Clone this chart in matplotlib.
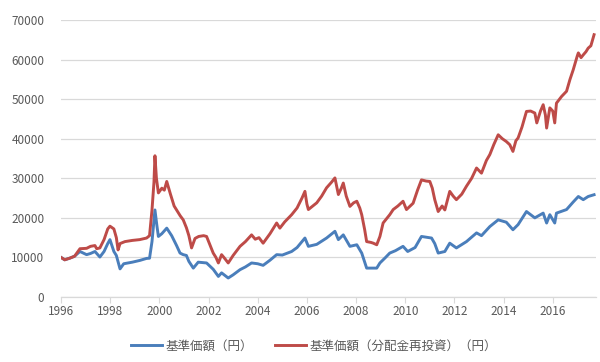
import matplotlib
matplotlib.use("Agg")
import matplotlib.pyplot as plt
from matplotlib.ticker import MultipleLocator

plt.rcParams['font.family'] = ['Noto Sans CJK JP', 'DejaVu Sans']

# ---- data (fractional year, yen) ----
red_t = [1996.0, 1996.15, 1996.35, 1996.55, 1996.77, 1997.04, 1997.2, 1997.38, 1997.45, 1997.58,
         1997.75, 1997.9, 1997.99, 1998.15, 1998.25, 1998.32, 1998.4, 1998.6, 1998.9, 1999.2,
         1999.48, 1999.6, 1999.7, 1999.78, 1999.82, 1999.88, 1999.96, 2000.1, 2000.2, 2000.3,
         2000.45, 2000.6, 2000.75, 2000.85, 2000.97, 2001.1, 2001.2, 2001.31, 2001.45, 2001.6,
         2001.8, 2001.92, 2002.1, 2002.19, 2002.3, 2002.4, 2002.53, 2002.65, 2002.8, 2003.0,
         2003.28, 2003.5, 2003.75, 2003.9, 2004.05, 2004.22, 2004.5, 2004.77, 2004.9, 2005.1,
         2005.38, 2005.6, 2005.8, 2005.92, 2006.0, 2006.06, 2006.2, 2006.4, 2006.6, 2006.8,
         2007.0, 2007.14, 2007.28, 2007.4, 2007.48, 2007.6, 2007.75, 2007.9, 2008.03, 2008.15,
         2008.23, 2008.35, 2008.43, 2008.6, 2008.7, 2008.84, 2008.97, 2009.1, 2009.37, 2009.51,
         2009.7, 2009.91, 2010.05, 2010.2, 2010.32, 2010.5, 2010.66, 2010.85, 2011.0, 2011.1,
         2011.2, 2011.34, 2011.5, 2011.61, 2011.81, 2011.95, 2012.08, 2012.3, 2012.49, 2012.7,
         2012.9, 2013.1, 2013.3, 2013.44, 2013.6, 2013.78, 2013.95, 2014.11, 2014.25, 2014.38,
         2014.5, 2014.59, 2014.75, 2014.93, 2015.1, 2015.27, 2015.35, 2015.5, 2015.61, 2015.7,
         2015.75, 2015.88, 2016.0, 2016.08, 2016.15, 2016.36, 2016.56, 2016.7, 2016.83, 2017.0,
         2017.04, 2017.15, 2017.24, 2017.35, 2017.44, 2017.55, 2017.68]
red_v = [10000, 9400, 9800, 10300, 12200, 12300, 12800, 13000, 12200, 12400,
         14500, 17200, 17900, 17200, 15000, 11900, 13500, 14000, 14300, 14500,
         14900, 15500, 22000, 29000, 35700, 30000, 26300, 27500, 27000, 29200,
         26000, 23000, 21500, 20500, 19500, 17500, 15500, 12400, 14800, 15300,
         15500, 15300, 12500, 11100, 10000, 8600, 10700, 9800, 8600, 10500,
         12800, 14000, 15700, 14600, 15000, 13600, 16000, 18700, 17400, 19000,
         20800, 22500, 25000, 26700, 23500, 22100, 22800, 23800, 25500, 27600,
         29000, 30100, 25900, 27500, 28800, 25500, 22900, 23800, 24200, 22500,
         20800, 17000, 14000, 13800, 13600, 13200, 15300, 18700, 20800, 22100,
         23000, 24200, 22100, 23000, 23700, 27000, 29600, 29300, 29200, 27500,
         24600, 21600, 23000, 22000, 26700, 25500, 24600, 26000, 28000, 30000,
         32600, 31300, 34500, 36000, 38500, 41000, 40000, 39300, 38500, 36800,
         39500, 40200, 43000, 46900, 47000, 46500, 44000, 47000, 48600, 46000,
         42700, 47800, 47000, 44000, 49000, 50700, 52000, 55000, 57400, 61000,
         61700, 60500, 61200, 62000, 62900, 63500, 66300]

blue_t = [1996.0, 1996.15, 1996.35, 1996.55, 1996.77, 1997.04, 1997.2, 1997.38, 1997.58, 1997.75,
          1997.9, 1997.99, 1998.15, 1998.25, 1998.4, 1998.55, 1998.9, 1999.21, 1999.48, 1999.6,
          1999.7, 1999.82, 1999.9, 1999.96, 2000.1, 2000.3, 2000.5, 2000.7, 2000.84, 2000.97,
          2001.1, 2001.2, 2001.38, 2001.58, 2001.92, 2002.19, 2002.4, 2002.53, 2002.8, 2003.0,
          2003.28, 2003.5, 2003.75, 2004.0, 2004.22, 2004.5, 2004.77, 2005.0, 2005.38, 2005.6,
          2005.8, 2005.92, 2006.06, 2006.4, 2006.8, 2007.14, 2007.28, 2007.48, 2007.75, 2008.03,
          2008.23, 2008.43, 2008.84, 2008.97, 2009.2, 2009.37, 2009.6, 2009.91, 2010.1, 2010.4,
          2010.66, 2011.07, 2011.2, 2011.34, 2011.61, 2011.81, 2012.08, 2012.49, 2012.9, 2013.1,
          2013.44, 2013.78, 2014.11, 2014.38, 2014.59, 2014.93, 2015.27, 2015.61, 2015.75, 2015.88,
          2016.08, 2016.15, 2016.56, 2016.83, 2017.04, 2017.24, 2017.44, 2017.68]
blue_v = [10000, 9400, 9800, 10300, 11500, 10700, 11000, 11500, 10100, 11500,
          13500, 14500, 11500, 10500, 7100, 8400, 8800, 9250, 9750, 9800,
          14000, 22000, 18000, 15300, 16000, 17400, 15500, 13000, 11100, 10700,
          10500, 9000, 7300, 8800, 8600, 7000, 5200, 6100, 4800, 5600,
          6900, 7600, 8600, 8400, 8000, 9300, 10700, 10600, 11500, 12500,
          14000, 14900, 12800, 13300, 14900, 16600, 14500, 15700, 12800, 13200,
          11100, 7300, 7300, 8600, 10000, 11100, 11700, 12800, 11500, 12500,
          15300, 14900, 13500, 11100, 11500, 13600, 12400, 14000, 16200, 15500,
          17800, 19500, 18900, 17000, 18300, 21600, 20000, 21200, 18700, 20800,
          18700, 21200, 22100, 24000, 25400, 24600, 25400, 25850]

series_labels = ['基準価額（円）', '基準価額（分配金再投資）（円）']
year_ticks = [1996, 1998, 2000, 2002, 2004, 2006, 2008, 2010, 2012, 2014, 2016]

fig = plt.figure(figsize=(6.0, 3.62), dpi=100)
ax = fig.add_axes([0.1017, 0.1796, 0.8913, 0.765])

l1, = ax.plot(blue_t, blue_v, color='#4A7EBB', lw=2.1, solid_joinstyle='round')
l2, = ax.plot(red_t, red_v, color='#BE4B48', lw=2.1, solid_joinstyle='round')

ax.set_xlim(1996, 2017.75)
ax.set_ylim(0, 70000)
ax.yaxis.set_major_locator(MultipleLocator(10000))
ax.set_xticks(year_ticks)
ax.set_xticklabels([str(y) for y in year_ticks])

ax.grid(axis='y', color='#D9D9D9', lw=0.9)
ax.set_axisbelow(True)
for s in ['top', 'right', 'left']:
    ax.spines[s].set_visible(False)
ax.spines['bottom'].set_color('#D9D9D9')
ax.spines['bottom'].set_linewidth(0.9)
ax.tick_params(axis='y', length=0, colors='#595959', labelsize=8.5, pad=12)
ax.tick_params(axis='x', length=4, color='#D9D9D9', colors='#595959', labelsize=8.5, pad=2)

fig.legend([l1, l2], series_labels, loc='center', bbox_to_anchor=(0.523, 1 - 346 / 362),
           ncol=2, frameon=False, fontsize=9, handlelength=2.5, handletextpad=0.25,
           columnspacing=1.75, labelcolor='#595959')

fig.savefig('out.png', dpi=100)
